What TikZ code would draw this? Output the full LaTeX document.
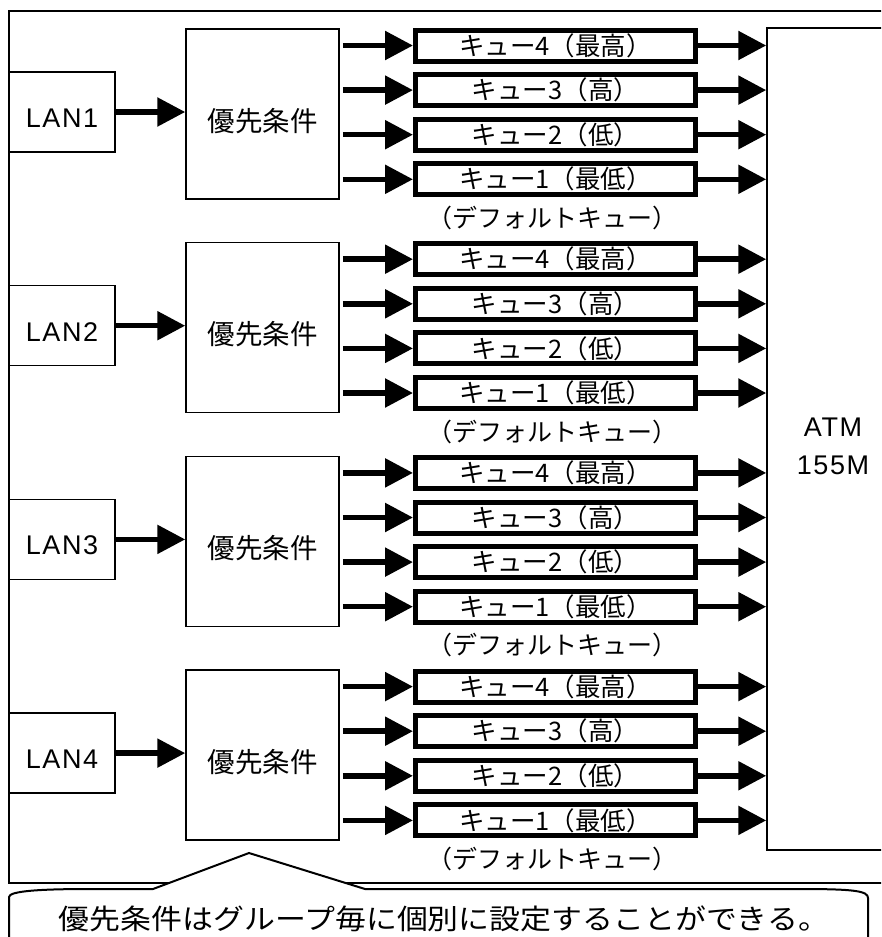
\documentclass[tikz,border=0pt]{standalone}
\usepackage{fontspec}
\setmainfont{Liberation Sans}
\newfontfamily\jp{Noto Sans CJK JP}
\newfontfamily\lat[LetterSpace=6]{Liberation Sans}
\usetikzlibrary{arrows.meta}
\tikzset{
  thinbox/.style={draw, line width=1.5pt, inner sep=0pt},
  lanbox/.style={thinbox, minimum width=106pt, minimum height=80pt, text height=31pt, text depth=0pt, font=\lat\fontsize{27pt}{32pt}\selectfont},
  prbox/.style={thinbox, minimum width=153pt, minimum height=170pt, text height=36pt, text depth=2pt, font=\jp\fontsize{27.5pt}{32pt}\selectfont},
  qbox/.style={draw, line width=5pt, inner sep=0pt, minimum width=280pt, minimum height=31pt, font=\jp\fontsize{25.5pt}{28pt}\selectfont},
  deflbl/.style={inner sep=0pt, font=\jp\fontsize{25pt}{28pt}\selectfont},
  arr/.style={line width=5.5pt, -{Triangle[length=28pt,width=28pt]}},
  atmbox/.style={thinbox, minimum width=132pt, minimum height=822pt},
  atmtext/.style={inner sep=0pt, align=center, font=\lat\fontsize{27pt}{38pt}\selectfont},
  frameline/.style={line width=2pt},
}
\begin{document}
\begin{tikzpicture}[x=1pt,y=-1pt]
\useasboundingbox (0,0) rectangle (881,937);
\clip (0,0) rectangle (881,937);
% outer frame
\draw[frameline] (9,10.5) rectangle (920,883);
% ATM
\node[atmbox, label={[atmtext, yshift=-7pt]center:ATM\\155M}] (atm) at (833,439) {};
\foreach \g in {1,...,4} {
  \pgfmathsetmacro\T{29+213.7*(\g-1)}
  \node[lanbox] (lan\g) at (62,\T+83) {LAN\g};
  \node[prbox] (pr\g) at (262.5,\T+85) {優先条件};
  \draw[arr] (lan\g.east) -- (pr\g.west |- lan\g.east);
  \foreach \k/\lbl [count=\i from 0] in {4/最高,3/高,2/低,1/最低} {
    \node[qbox] (q\g-\k) at (555.5,\T+16.5+44.6*\i) {キュー\k（\lbl）};
    \draw[arr] ([xshift=3pt]pr\g.east |- q\g-\k.west) -- (q\g-\k.west);
    \draw[arr] (q\g-\k.east) -- (atm.west |- q\g-\k.east);
  }
  \node[deflbl] (def\g) at (552,\T+189) {（デフォルトキュー）};
}
% callout
\draw[line width=2pt, fill=white]
  (9,950) -- (9,897) .. controls (9,891) and (40,889) .. (90,889)
  -- (153,889) -- (249,853) -- (365,889) -- (800,889)
  .. controls (855,889) and (868,891) .. (868,898) -- (868,950);
\node[inner sep=0pt] (note) at (444,919) {\resizebox{770pt}{\height}{\jp\fontsize{28pt}{34pt}\selectfont 優先条件はグループ毎に個別に設定することができる。}};
\end{tikzpicture}
\end{document}
